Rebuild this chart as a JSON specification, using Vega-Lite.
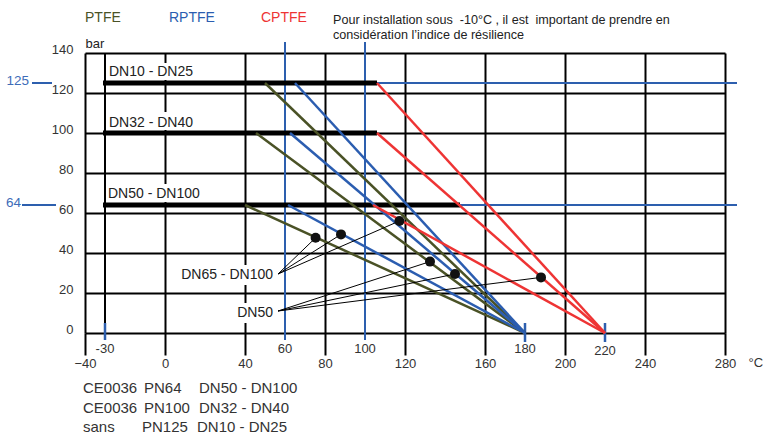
{
  "$schema": "https://vega.github.io/schema/vega-lite/v6.json",
  "width": 640,
  "height": 280,
  "autosize": "none",
  "padding": {"left": 85, "top": 53, "right": 40, "bottom": 101},
  "background": "white",
  "config": {"view": {"stroke": null}, "font": "Liberation Sans"},
  "datasets": {
    "boxes": [
      {"T": -29.5, "T2": 15.5, "P": 126.5, "P2": 135},
      {"T": -29.5, "T2": 12.5, "P": 101.5, "P2": 110.5},
      {"T": -29.5, "T2": 18.5, "P": 65.5, "P2": 74.5},
      {"T": 7.5, "T2": 55.5, "P": 24, "P2": 34},
      {"T": 35, "T2": 55.5, "P": 5, "P2": 15}
    ],
    "blackV": [{"T": -30, "P": 5, "P2": 140}],
    "blueV": [{"T": 60, "P": -3.5, "P2": 145.5}, {"T": 100, "P": -3.5, "P2": 145.5}],
    "blueTick": [{"T": -30, "P": -3.5, "P2": 5}, {"T": 180, "P": -4.5, "P2": 5}, {"T": 220, "P": -4.5, "P2": 5}],
    "blueH": [
      {"T": 106, "T2": 286, "P": 125},
      {"T": 147.5, "T2": 286, "P": 64},
      {"T": -66.5, "T2": -56.5, "P": 125},
      {"T": -71.5, "T2": -54.5, "P": 64}
    ],
    "thick": [
      {"T": -31, "T2": 106, "P": 125},
      {"T": -31, "T2": 106, "P": 100},
      {"T": -31, "T2": 147.5, "P": 64}
    ],
    "diag": [
      {"mat": "PTFE", "T": 50, "P": 125, "T2": 180, "P2": 0},
      {"mat": "PTFE", "T": 45.5, "P": 100, "T2": 180, "P2": 0},
      {"mat": "PTFE", "T": 40, "P": 64, "T2": 180, "P2": 0},
      {"mat": "RPTFE", "T": 65, "P": 125, "T2": 180, "P2": 0},
      {"mat": "RPTFE", "T": 62.5, "P": 100, "T2": 180, "P2": 0},
      {"mat": "RPTFE", "T": 61.5, "P": 64, "T2": 180, "P2": 0},
      {"mat": "CPTFE", "T": 106, "P": 125, "T2": 220, "P2": 0},
      {"mat": "CPTFE", "T": 106, "P": 100, "T2": 220, "P2": 0},
      {"mat": "CPTFE", "T": 104, "P": 64, "T2": 220, "P2": 0}
    ],
    "leader": [
      {"T": 56.5, "P": 29.5, "T2": 75.3, "P2": 47.6},
      {"T": 56.5, "P": 29.5, "T2": 88, "P2": 49.3},
      {"T": 56.5, "P": 29.5, "T2": 117.2, "P2": 56},
      {"T": 56.5, "P": 11, "T2": 132.5, "P2": 35.7},
      {"T": 56.5, "P": 11, "T2": 145, "P2": 29.5},
      {"T": 56.5, "P": 11, "T2": 188, "P2": 27.8}
    ],
    "dots": [
      {"T": 75.3, "P": 47.6}, {"T": 88, "P": 49.3}, {"T": 117.2, "P": 56},
      {"T": 132.5, "P": 35.7}, {"T": 145, "P": 29.5}, {"T": 188, "P": 27.8}
    ],
    "dnLeft": [
      {"T": -28, "P": 130.5, "label": "DN10 - DN25"},
      {"T": -28, "P": 105, "label": "DN32 - DN40"},
      {"T": -28.5, "P": 69.5, "label": "DN50 - DN100"}
    ],
    "dnRight": [
      {"T": 54, "P": 29, "label": "DN65 - DN100"},
      {"T": 54, "P": 10, "label": "DN50"}
    ],
    "blueLabels": [
      {"T": -68, "P": 126, "label": "125"},
      {"T": -72, "P": 65, "label": "64"}
    ],
    "subTicks": [
      {"T": -30, "P": -8, "label": "-30"},
      {"T": 60, "P": -8, "label": "60"},
      {"T": 100, "P": -8, "label": "100"},
      {"T": 180, "P": -8, "label": "180"},
      {"T": 220, "P": -9, "label": "220"}
    ],
    "header": [
      {"T": -40, "P": 157.5, "label": "PTFE", "mat": "PTFE"},
      {"T": 2, "P": 157.5, "label": "RPTFE", "mat": "RPTFE"},
      {"T": 48, "P": 157.5, "label": "CPTFE", "mat": "CPTFE"}
    ],
    "note": [
      {"T": 84, "P": 156.5, "label": "Pour installation sous \u00a0-10°C , il est \u00a0important de prendre en"},
      {"T": 84, "P": 149, "label": "considération l’indice de résilience"}
    ],
    "table": [
      {"T": -41, "P": -27.5, "label": "CE0036"},
      {"T": -10.5, "P": -27.5, "label": "PN64"},
      {"T": 17, "P": -27.5, "label": "DN50 - DN100"},
      {"T": -41, "P": -37.5, "label": "CE0036"},
      {"T": -10.5, "P": -37.5, "label": "PN100"},
      {"T": 17, "P": -37.5, "label": "DN32 - DN40"},
      {"T": -41, "P": -47, "label": "sans"},
      {"T": -11.5, "P": -47, "label": "PN125"},
      {"T": 16, "P": -47, "label": "DN10 - DN25"}
    ]
  },
  "encoding": {
    "x": {
      "field": "T", "type": "quantitative", "title": "°C",
      "scale": {"domain": [-40, 280], "nice": false, "zero": false},
      "axis": {
        "values": [-40, 0, 40, 80, 120, 160, 200, 240, 280],
        "grid": true, "gridColor": "#000", "gridWidth": 2, "gridOpacity": 1,
        "domain": false, "ticks": true, "tickColor": "#000", "tickWidth": 2, "tickSize": 22,
        "labelFontSize": 13, "labelColor": "#333", "labelPadding": 2, "labelFlush": false,
        "labelFont": "Liberation Sans",
        "titleX": 663, "titleY": 29, "titleAlign": "left", "titleBaseline": "middle",
        "titleFontSize": 13, "titleFontWeight": "normal", "titleColor": "#333", "titleFont": "Liberation Sans"
      }
    },
    "y": {
      "field": "P", "type": "quantitative", "title": "bar",
      "scale": {"domain": [0, 140], "nice": false, "zero": false},
      "axis": {
        "values": [0, 20, 40, 60, 80, 100, 120, 140],
        "grid": true, "gridColor": "#000", "gridWidth": 2, "gridOpacity": 1,
        "domain": false, "ticks": false,
        "labelFontSize": 13, "labelColor": "#333", "labelPadding": 12, "labelBaseline": "alphabetic",
        "labelFont": "Liberation Sans",
        "titleAngle": 0, "titleX": 0, "titleY": -10, "titleAlign": "left", "titleBaseline": "middle",
        "titleFontSize": 13, "titleFontWeight": "normal", "titleColor": "#222", "titleFont": "Liberation Sans"
      }
    }
  },
  "layer": [
    {
      "data": {"name": "boxes"},
      "mark": {"type": "rect", "color": "white", "opacity": 1},
      "encoding": {"x2": {"field": "T2"}, "y2": {"field": "P2"}}
    },
    {
      "data": {"name": "blackV"},
      "mark": {"type": "rule", "color": "#000", "strokeWidth": 2},
      "encoding": {"y2": {"field": "P2"}}
    },
    {
      "data": {"name": "blueV"},
      "mark": {"type": "rule", "color": "#2d5fae", "strokeWidth": 2},
      "encoding": {"y2": {"field": "P2"}}
    },
    {
      "data": {"name": "blueTick"},
      "mark": {"type": "rule", "color": "#2d5fae", "strokeWidth": 2.5},
      "encoding": {"y2": {"field": "P2"}}
    },
    {
      "data": {"name": "blueH"},
      "mark": {"type": "rule", "color": "#2d5fae", "strokeWidth": 2},
      "encoding": {"x2": {"field": "T2"}}
    },
    {
      "data": {"name": "thick"},
      "mark": {"type": "rule", "color": "#000", "strokeWidth": 5},
      "encoding": {"x2": {"field": "T2"}}
    },
    {
      "data": {"name": "diag"},
      "mark": {"type": "rule", "strokeWidth": 2.5},
      "encoding": {
        "x2": {"field": "T2"},
        "y2": {"field": "P2"},
        "color": {
          "field": "mat", "type": "nominal", "legend": null,
          "scale": {"domain": ["PTFE", "RPTFE", "CPTFE"], "range": ["#4a5226", "#2b5db0", "#ee3434"]}
        }
      }
    },
    {
      "data": {"name": "leader"},
      "mark": {"type": "rule", "color": "#000", "strokeWidth": 1},
      "encoding": {"x2": {"field": "T2"}, "y2": {"field": "P2"}}
    },
    {
      "data": {"name": "dots"},
      "mark": {"type": "point", "shape": "circle", "filled": true, "size": 100, "color": "#111", "opacity": 1}
    },
    {
      "data": {"name": "dnLeft"},
      "mark": {"type": "text", "align": "left", "baseline": "middle", "fontSize": 14, "color": "#222"},
      "encoding": {"text": {"field": "label"}}
    },
    {
      "data": {"name": "dnRight"},
      "mark": {"type": "text", "align": "right", "baseline": "middle", "fontSize": 14, "color": "#222"},
      "encoding": {"text": {"field": "label"}}
    },
    {
      "data": {"name": "blueLabels"},
      "mark": {"type": "text", "align": "right", "baseline": "middle", "fontSize": 13.5, "color": "#3d6cb8"},
      "encoding": {"text": {"field": "label"}}
    },
    {
      "data": {"name": "subTicks"},
      "mark": {"type": "text", "align": "center", "baseline": "middle", "fontSize": 13, "color": "#333"},
      "encoding": {"text": {"field": "label"}}
    },
    {
      "data": {"name": "header"},
      "mark": {"type": "text", "align": "left", "baseline": "middle", "fontSize": 14},
      "encoding": {
        "text": {"field": "label"},
        "color": {"field": "mat", "type": "nominal", "legend": null}
      }
    },
    {
      "data": {"name": "note"},
      "mark": {"type": "text", "align": "left", "baseline": "middle", "fontSize": 12.6, "color": "#222"},
      "encoding": {"text": {"field": "label"}}
    },
    {
      "data": {"name": "table"},
      "mark": {"type": "text", "align": "left", "baseline": "middle", "fontSize": 15, "color": "#333"},
      "encoding": {"text": {"field": "label"}}
    }
  ]
}
